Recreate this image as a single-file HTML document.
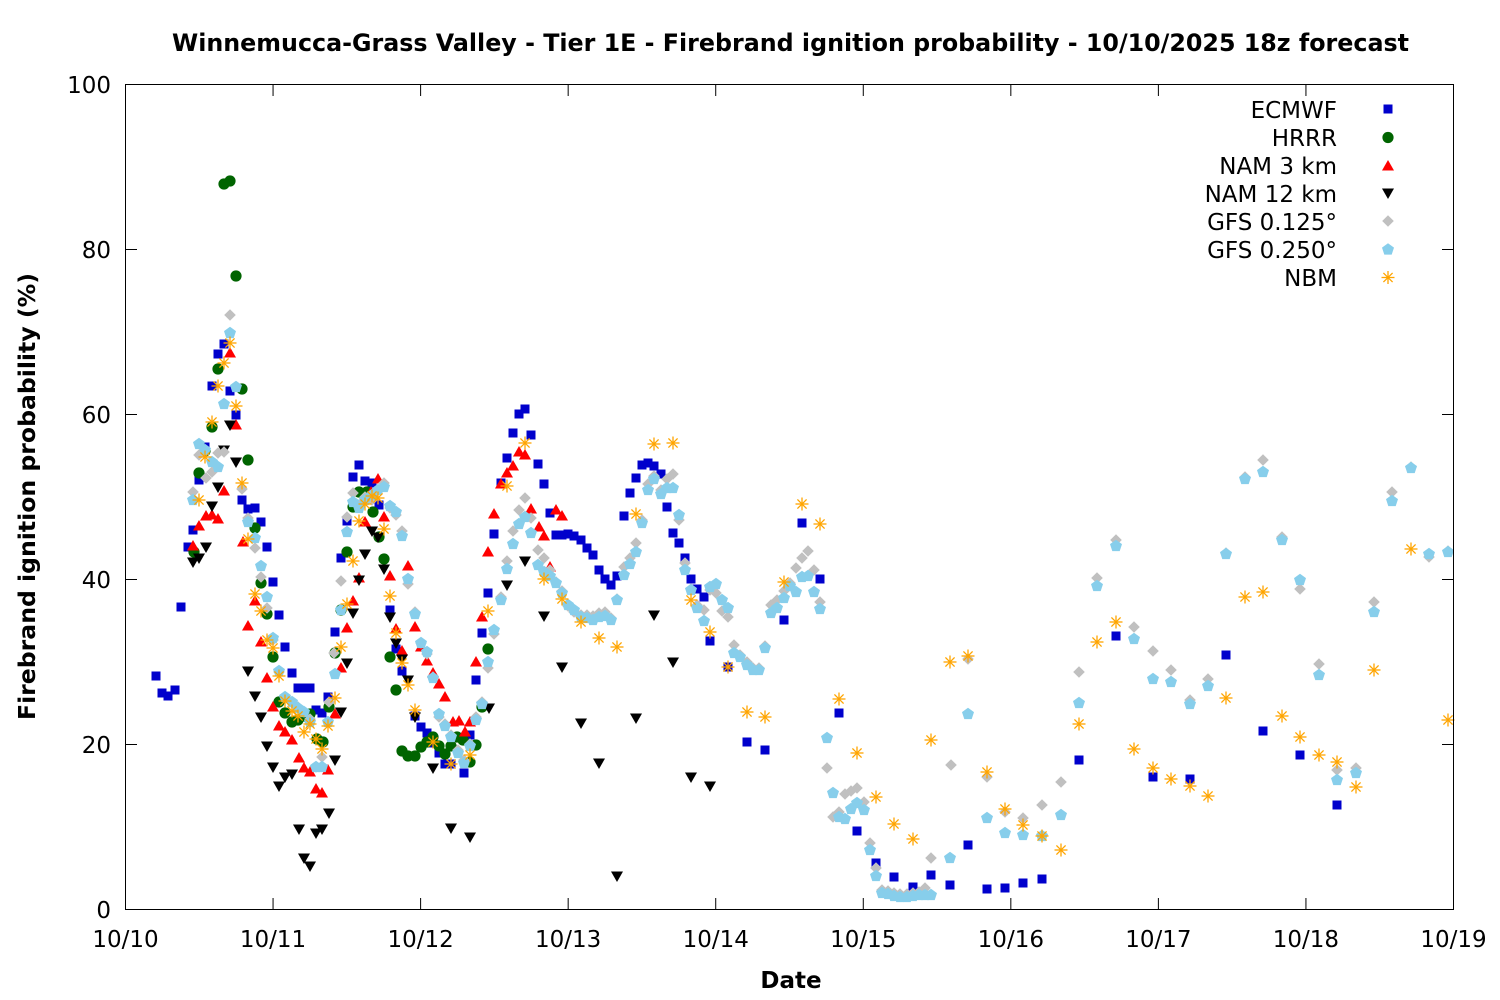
<!DOCTYPE html>
<html><head><meta charset="utf-8">
<style>
html,body{margin:0;padding:0;background:#fff;}
svg{display:block;}
text{font-family:"DejaVu Sans","Liberation Sans",sans-serif;fill:#000;}
</style></head>
<body>
<svg id="c" width="1500" height="1000" viewBox="0 0 1500 1000" xmlns="http://www.w3.org/2000/svg">
<defs>
<rect id="sq" x="-4.5" y="-4.5" width="9" height="9" fill="#0000cc"/>
<circle id="ci" r="5.6" fill="#006400"/>
<polygon id="tu" points="0,-6 6,4.5 -6,4.5" fill="#ff0000"/>
<polygon id="td" points="0,6 6,-4.5 -6,-4.5" fill="#000000"/>
<polygon id="di" points="0,-5.8 5.8,0 0,5.8 -5.8,0" fill="#c0c0c0"/>
<polygon id="pe" points="0,-6.3 6,-1.9 3.7,5.1 -3.7,5.1 -6,-1.9" fill="#87ceeb"/>
<g id="as" stroke="#ffa500" stroke-width="1.3" fill="none">
<line x1="-6.5" y1="0" x2="6.5" y2="0"/><line x1="0" y1="-6.5" x2="0" y2="6.5"/>
<line x1="-4.6" y1="-4.6" x2="4.6" y2="4.6"/><line x1="-4.6" y1="4.6" x2="4.6" y2="-4.6"/>
</g>
</defs>
<rect x="0" y="0" width="1500" height="1000" fill="#fff"/>
<text x="790.5" y="51" font-size="24" font-weight="bold" text-anchor="middle" textLength="1237" lengthAdjust="spacingAndGlyphs">Winnemucca-Grass Valley - Tier 1E - Firebrand ignition probability - 10/10/2025 18z forecast</text>
<g id="ticks" stroke="#000" stroke-width="1"></g>
<g id="labels" font-size="23"></g>
<text transform="translate(35,496.5) rotate(-90)" font-size="23" font-weight="bold" text-anchor="middle" textLength="447" lengthAdjust="spacingAndGlyphs">Firebrand ignition probability (%)</text>
<text x="791" y="988" font-size="23" font-weight="bold" text-anchor="middle">Date</text>
<g id="pts"></g>
<rect x="125.5" y="84.5" width="1328" height="825" fill="none" stroke="#000" stroke-width="1"/>
<g font-size="23" text-anchor="end">
<text x="1337" y="118">ECMWF</text>
<text x="1337" y="146">HRRR</text>
<text x="1337" y="174">NAM 3 km</text>
<text x="1337" y="202">NAM 12 km</text>
<text x="1337" y="230">GFS 0.125°</text>
<text x="1337" y="258">GFS 0.250°</text>
<text x="1337" y="286">NBM</text>
</g>
<use href="#sq" x="1388" y="109"/>
<use href="#ci" x="1388" y="137.5"/>
<use href="#tu" x="1388" y="166"/>
<use href="#td" x="1388" y="193"/>
<use href="#di" x="1388" y="221"/>
<use href="#pe" x="1388" y="249.5"/>
<use href="#as" x="1388" y="277.5"/>
</svg>
<script>
(function(){
var E="156,676 162,693 168,696 175,690 181,607 188,547 193,530 199,480 205,447 212,386 218,354 224,344 230,391 236,415 242,500 248,509 255,508 261,522 267,547 273,582 279,615 285,647 292,673 298,688 304,688 310,688 316,710 322,713 328,697 335,632 341,558 347,521 353,477 359,465 365,481 372,483 379,505 390,610 396,649 402,671 415,716 421,727 427,733 433,743 439,753 445,764 451,764 464,773 470,735 476,680 482,633 488,593 494,534 501,483 507,458 513,433 519,414 525,409 531,435 538,464 544,484 550,513 556,535 562,535 568,534 574,536 581,540 587,548 593,555 599,570 605,579 611,585 617,576 624,516 630,493 636,478 642,465 648,463 654,466 661,474 667,507 673,533 679,543 685,558 691,579 697,589 704,597 710,641 728,667 747,742 765,750 784,620 802,523 820,579 839,713 857,831 876,863 894,877 913,887 931,875 950,885 968,845 987,889 1005,888 1023,883 1042,879 1079,760 1116,636 1153,777 1190,779 1226,655 1263,731 1300,755 1337,805";
var H="194,552 199,473 205,451 212,427 218,369 224,184 230,181 236,276 242,389 248,460 255,528 261,583 267,614 273,657 279,702 285,713 292,722 298,720 304,716 310,714 317,739 323,742 329,707 335,653 341,610 347,552 353,507 359,492 367,492 373,512 379,537 384,559 390,657 396,690 402,751 408,756 415,756 421,747 427,742 433,737 439,746 445,754 451,746 457,737 463,740 470,762 476,745 482,707 488,649";
var N3="193,546 199,526 206,516 212,515 218,519 224,491 230,353 236,425 243,542 248,626 255,601 261,642 267,678 273,707 279,726 285,732 292,740 299,758 304,768 310,772 316,789 322,793 328,770 335,714 341,668 347,628 353,601 359,578 365,522 371,492 378,479 384,517 390,576 396,629 402,651 408,566 415,627 421,647 427,661 433,673 439,684 445,697 453,722 459,721 465,732 470,722 476,662 482,617 488,552 494,514 501,484 507,473 513,466 519,452 525,455 531,509 539,527 544,536 550,567 556,510 562,516";
var N12="193,562 199,558 206,547 212,506 218,487 224,450 230,425 236,462 248,671 255,696 261,717 267,746 273,767 279,786 285,777 292,774 299,829 304,858 310,866 316,833 322,829 329,813 335,760 341,712 347,663 353,613 359,580 365,554 372,531 378,537 384,569 390,617 396,643 402,659 408,680 415,717 433,768 451,828 470,837 489,708 507,585 525,561 544,616 562,667 581,723 599,763 617,876 636,718 654,615 673,662 691,777 710,786";
var G="193,492 199,455 206,478 212,472 218,453 224,452 230,315 242,489 248,518 255,548 261,577 267,608 273,640 279,672 285,697 292,703 298,707 304,712 310,719 316,767 322,757 329,702 334,653 341,581 347,517 353,493 359,505 365,497 372,500 378,490 384,483 390,508 396,515 402,531 408,584 415,612 421,643 427,654 433,677 439,717 445,724 451,735 458,750 464,760 470,744 476,717 482,702 488,668 494,634 501,597 507,561 513,531 519,510 525,498 531,518 538,550 544,558 550,570 556,582 562,591 568,606 574,612 581,615 587,615 593,616 599,613 605,612 611,618 617,599 624,567 630,558 636,543 642,520 648,484 654,476 661,490 667,479 673,474 679,520 685,563 691,589 697,605 704,610 710,590 716,593 722,611 728,617 734,645 740,655 747,662 753,668 759,668 765,646 771,605 777,600 784,591 790,583 796,568 802,558 808,551 814,570 820,602 827,768 833,817 839,812 845,794 851,791 857,788 864,802 870,843 876,868 882,890 888,891 894,893 900,894 907,894 913,893 919,892 925,888 931,858 951,765 968,659 987,777 1005,812 1023,818 1042,805 1061,782 1079,672 1097,578 1116,540 1134,627 1153,651 1171,670 1190,700 1208,679 1226,553 1245,477 1263,460 1282,537 1300,589 1319,664 1337,770 1356,768 1374,602 1392,492 1411,467 1429,557 1448,551";
var C="193,500 199,444 205,450 212,462 218,467 224,404 230,333 236,387 248,522 255,538 261,566 267,597 273,638 279,671 285,697 292,702 298,708 304,712 310,722 316,767 322,767 328,722 335,674 341,610 347,532 353,502 359,508 365,500 372,495 378,490 384,487 390,506 396,512 402,536 408,579 415,614 421,643 427,652 433,678 439,714 445,726 451,737 458,753 464,763 470,746 476,720 482,704 488,662 494,630 501,600 507,569 513,544 519,524 525,517 531,533 538,565 544,572 550,576 556,583 562,593 568,605 574,610 581,617 587,618 593,620 599,617 605,616 611,620 617,600 624,575 630,564 636,552 642,523 648,490 654,479 661,494 667,488 673,488 679,515 685,570 691,590 697,608 704,621 710,587 716,584 722,600 728,608 734,653 740,657 747,665 753,670 759,670 765,648 771,613 777,608 784,598 790,586 796,592 802,577 808,576 814,592 820,609 827,738 833,793 839,817 845,819 851,809 857,803 864,810 870,850 876,876 882,893 888,894 894,896 900,897 907,897 913,896 919,895 925,895 931,895 950,858 968,714 987,818 1005,833 1023,835 1042,836 1061,815 1079,703 1097,586 1116,546 1134,639 1153,679 1171,682 1190,704 1208,686 1226,554 1245,479 1263,472 1282,540 1300,580 1319,675 1337,780 1356,773 1374,612 1392,501 1411,468 1429,554 1448,552";
var B="199,500 205,457 212,422 218,386 224,363 230,343 236,406 242,483 248,539 255,594 261,611 267,640 273,648 279,676 285,701 292,711 298,716 304,732 310,724 316,739 322,749 328,726 335,698 341,647 347,604 353,561 359,521 365,504 372,496 378,498 384,529 390,596 396,633 402,663 408,685 415,710 433,742 451,764 470,755 488,611 507,486 525,443 544,579 562,599 581,622 599,638 617,647 636,514 654,444 673,443 691,600 710,632 728,667 747,712 765,717 784,582 802,504 820,524 839,699 857,753 876,797 894,824 913,839 931,740 950,662 968,656 987,772 1005,809 1023,825 1042,836 1061,850 1079,724 1097,642 1116,622 1134,749 1153,768 1171,779 1190,786 1208,796 1226,698 1245,597 1263,592 1282,716 1300,737 1319,755 1337,762 1356,787 1374,670 1411,549 1448,720";
var series=[[E,"sq"],[H,"ci"],[N3,"tu"],[N12,"td"],[G,"di"],[C,"pe"],[B,"as"]];
var out="";
series.forEach(function(s){
  s[0].trim().split(/\s+/).forEach(function(p){
    var a=p.split(",");
    out+='<use href="#'+s[1]+'" x="'+a[0]+'" y="'+a[1]+'"/>';
  });
});
document.getElementById("pts").innerHTML=out;
var t="",l="";
for(var i=0;i<=5;i++){
  var y=909.5-i*165;
  t+='<line x1="125.5" y1="'+y+'" x2="137" y2="'+y+'"/><line x1="1442" y1="'+y+'" x2="1453.5" y2="'+y+'"/>';
  l+='<text x="111" y="'+(y+8.5)+'" text-anchor="end">'+(i*20)+'</text>';
}
var days=["10/10","10/11","10/12","10/13","10/14","10/15","10/16","10/17","10/18","10/19"];
for(var d=0;d<=9;d++){
  var x=125.5+d*147.555;
  t+='<line x1="'+x+'" y1="909.5" x2="'+x+'" y2="898"/><line x1="'+x+'" y1="84.5" x2="'+x+'" y2="96"/>';
  l+='<text x="'+x+'" y="947" text-anchor="middle">'+days[d]+'</text>';
}
document.getElementById("ticks").innerHTML=t;
document.getElementById("labels").innerHTML=l;
})();
</script>
</body></html>
